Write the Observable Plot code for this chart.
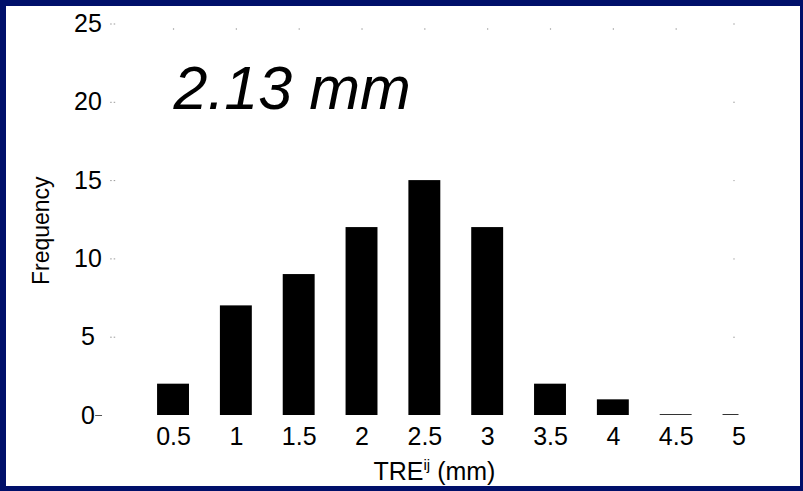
<!DOCTYPE html>
<html>
<head>
<meta charset="utf-8">
<script src="https://cdn.jsdelivr.net/npm/d3@7"></script>
<script src="https://cdn.jsdelivr.net/npm/@observablehq/plot@0.6"></script>
<style>
  html, body { margin: 0; padding: 0; }
  body { width: 803px; height: 491px; background: #00106a; position: relative; overflow: hidden; }
  #chart { position: absolute; left: 6px; top: 6px; width: 794px; height: 480px; background: #fff; }
</style>
</head>
<body>
<div id="chart"></div>
<script>
// ---- data ----
const binCenters = [0.5, 1, 1.5, 2, 2.5, 3, 3.5, 4, 4.5, 5];
const binLabels  = ["0.5", "1", "1.5", "2", "2.5", "3", "3.5", "4", "4.5", "5"];
const counts     = [2, 7, 9, 12, 15, 12, 2, 1, 0, 0];
const yTicks     = [0, 5, 10, 15, 20, 25];
const annotation = "2.13 mm";
const yLabel     = "Frequency";

const bins = binCenters.map((x, i) => ({x, label: binLabels[i], count: counts[i]}));
const hw = 0.127; // half bar width in data units
const font = "'Liberation Sans', Arial, Helvetica, sans-serif";

const svg = Plot.plot({
  width: 794,
  height: 480,
  marginLeft: 104.2,
  marginRight: 61.5,
  marginTop: 17.5,
  marginBottom: 71,
  x: {domain: [0, 5], axis: null},
  y: {domain: [0, 25], axis: null},
  style: {background: "white", fontFamily: font, color: "black", overflow: "visible"},
  marks: [
    Plot.rectY(bins, {x1: d => d.x - hw, x2: d => d.x + hw, y1: 0, y2: "count", fill: "black", clip: true}),
    // zero-height bars show as a thin baseline
    Plot.ruleY(bins.filter(d => d.count === 0), {y: 0, dy: -1, x1: d => d.x - hw, x2: d => Math.min(d.x + hw, 5), stroke: "#333", strokeWidth: 1}),
    // y ticks (inward dotted) and the 0 dash
    Plot.ruleY(yTicks.filter(d => d > 0), {y: d => d, x1: 0, x2: 0.04, stroke: "#999", strokeDasharray: "1.5,2"}),
    Plot.ruleY([0], {y: d => d, x1: -0.12, x2: -0.065, stroke: "#555"}),
    // top and right tick dots
    Plot.dot(binCenters.slice(0, 9), {x: d => d, frameAnchor: "top", dy: 5, r: 0.7, fill: "#999", stroke: null}),
    Plot.dot(yTicks.filter(d => d > 0), {y: d => d, frameAnchor: "right", dx: -5, r: 0.7, fill: "#999", stroke: null}),
    // y tick labels
    Plot.text(yTicks, {y: d => d, text: d => String(d), frameAnchor: "left", dx: -22.7, textAnchor: "middle", lineAnchor: "middle", fontSize: 25, fill: "black"}),
    // x tick labels
    Plot.text(bins, {x: "x", text: "label", frameAnchor: "bottom", dy: 12, lineAnchor: "top", textAnchor: "middle", fontSize: 25, fill: "black"}),
    // y axis label
    Plot.text([yLabel], {text: d => d, frameAnchor: "left", dx: -69, dy: 11, rotate: -90, lineAnchor: "middle", textAnchor: "middle", fontSize: 23, fill: "black"}),
    // annotation
    Plot.text([annotation], {text: d => d, frameAnchor: "top-left", dx: 62.8, dy: 65, textAnchor: "start", lineAnchor: "middle", fontSize: 61, fontStyle: "italic", fill: "black"})
  ]
});

// x axis label with superscript
const lab = d3.select(svg).append("text")
  .attr("x", 428.5).attr("y", 474)
  .attr("text-anchor", "middle")
  .attr("fill", "black")
  .style("font-family", font)
  .style("font-size", "25px");
lab.append("tspan").text("TRE");
lab.append("tspan").attr("dy", -10).style("font-size", "15px").text("ij");
lab.append("tspan").attr("dy", 10).text(" (mm)");

document.getElementById("chart").appendChild(svg);
</script>
</body>
</html>
